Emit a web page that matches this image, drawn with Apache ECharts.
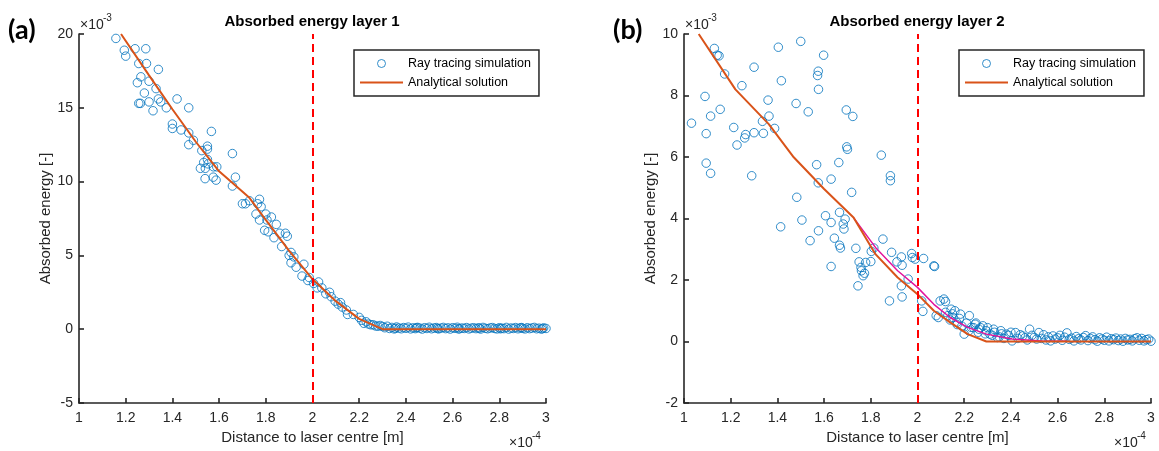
<!DOCTYPE html>
<html>
<head>
<meta charset="utf-8">
<script src="https://cdn.jsdelivr.net/npm/echarts@6/dist/echarts.min.js"></script>
<style>
  html, body { margin: 0; padding: 0; background: #fff; }
  #chart { width: 1159px; height: 451px; }
</style>
</head>
<body>
<div id="chart"></div>
<script>
// Distances in units of 1e-4 m, energies in units of 1e-3.

// ---- Layer 1: ray tracing samples ----
const layer1SimX = [
  1.158, 1.194, 1.20, 1.24, 1.286, 1.256, 1.289, 1.265, 1.25, 1.30, 1.34, 1.28, 1.33,
  1.256, 1.263, 1.30, 1.34, 1.35, 1.317, 1.374, 1.42, 1.47, 1.40, 1.40, 1.437, 1.47,
  1.49, 1.47, 1.567, 1.55, 1.55, 1.526, 1.657, 1.55, 1.534, 1.553, 1.52, 1.541, 1.576,
  1.59, 1.54, 1.575, 1.587, 1.67, 1.657, 1.70, 1.713, 1.73, 1.773, 1.765, 1.78, 1.758,
  1.773, 1.80, 1.805, 1.824, 1.845, 1.795, 1.81, 1.835, 1.86, 1.884, 1.892, 1.868,
  1.908, 1.90, 1.92, 1.908, 1.93, 1.963, 1.955, 1.98, 1.986, 2.005, 2.02, 2.026, 2.04,
  2.057, 2.073, 2.08, 2.097, 2.11, 2.12, 2.127, 2.145, 2.15, 2.175, 2.20, 2.21, 2.22,
  2.23, 2.24, 2.25, 2.26, 2.27, 2.28, 2.29,
  2.30, 2.31, 2.32, 2.33, 2.34, 2.35, 2.355, 2.36, 2.37, 2.38, 2.39, 2.40, 2.41, 2.42,
  2.43, 2.44, 2.445, 2.45, 2.46, 2.47, 2.48, 2.49, 2.50, 2.51, 2.52, 2.53, 2.535, 2.54,
  2.55, 2.56, 2.57, 2.58, 2.59, 2.60, 2.61, 2.62, 2.625, 2.63, 2.64, 2.65, 2.66, 2.67,
  2.68, 2.69, 2.70, 2.71, 2.715, 2.72, 2.73, 2.74, 2.75, 2.76, 2.77, 2.78, 2.79, 2.80,
  2.805, 2.81, 2.82, 2.83, 2.84, 2.85, 2.86, 2.87, 2.88, 2.89, 2.895, 2.90, 2.91, 2.92,
  2.93, 2.94, 2.95, 2.96, 2.97, 2.98, 2.985, 2.99, 3.00
];
const layer1SimY = [
  19.7, 18.9, 18.5, 19.0, 19.0, 18.0, 18.0, 17.1, 16.7, 16.8, 17.6, 16.0, 16.3,
  15.3, 15.3, 15.4, 15.6, 15.4, 14.8, 15.0, 15.6, 15.0, 13.9, 13.6, 13.5, 13.3,
  12.8, 12.5, 13.4, 12.4, 12.2, 12.1, 11.9, 11.5, 11.3, 11.2, 10.9, 10.9, 11.0,
  11.0, 10.2, 10.3, 10.1, 10.3, 9.7, 8.5, 8.5, 8.7, 8.8, 8.5, 8.3, 7.8,
  7.4, 7.8, 7.4, 7.6, 7.1, 6.7, 6.6, 6.2, 6.5, 6.5, 6.3, 5.6,
  5.2, 5.0, 4.9, 4.5, 4.2, 4.4, 3.6, 3.3, 3.5, 3.1, 2.8, 3.2, 2.8,
  2.4, 2.5, 2.2, 1.9, 1.7, 1.8, 1.5, 1.3, 1.0, 1.0, 0.8, 0.6, 0.4,
  0.5, 0.35, 0.3, 0.3, 0.22, 0.2, 0.25,
  0.18, 0.10, 0.20, 0.05, 0.12, 0.02, 0.06, 0.15, 0.08, 0.03, 0.11, 0.06, 0.14, 0.02,
  0.09, 0.04, 0.10, 0.12, 0.07, 0.01, 0.10, 0.05, 0.13, 0.03, 0.08, 0.11, 0.05, 0.02,
  0.07, 0.12, 0.04, 0.09, 0.01, 0.10, 0.06, 0.13, 0.02, 0.03, 0.08, 0.05, 0.11, 0.02,
  0.07, 0.10, 0.04, 0.09, 0.07, 0.01, 0.12, 0.06, 0.03, 0.08, 0.11, 0.05, 0.02, 0.10,
  0.03, 0.07, 0.04, 0.12, 0.01, 0.08, 0.05, 0.11, 0.03, 0.09, 0.11, 0.06, 0.02, 0.10,
  0.04, 0.08, 0.12, 0.03, 0.07, 0.01, 0.04, 0.09, 0.05
];

// ---- Layer 1: analytical solution ----
const layer1FitX = [1.18, 1.30, 1.40, 1.50, 1.60, 1.73, 1.80, 1.90, 2.00, 2.10, 2.20, 2.30, 3.00];
const layer1FitY = [20.0, 17.2, 14.9, 12.7, 10.7, 8.9, 7.4, 5.3, 3.4, 1.9, 0.7, 0.0, 0.0];

// ---- Layer 2: ray tracing samples ----
const layer2SimX = [
  1.032, 1.09, 1.095, 1.095, 1.114, 1.114, 1.13, 1.142, 1.15, 1.155, 1.174, 1.213,
  1.227, 1.248, 1.26, 1.264, 1.29, 1.30, 1.30, 1.336, 1.34, 1.36, 1.364, 1.388, 1.404,
  1.414, 1.417, 1.48, 1.483, 1.50, 1.505, 1.532, 1.54, 1.568, 1.572, 1.575, 1.575,
  1.576, 1.576, 1.598, 1.606, 1.63, 1.63, 1.63, 1.644, 1.663, 1.666, 1.666, 1.67,
  1.682, 1.685, 1.69, 1.695, 1.697, 1.70, 1.718, 1.723, 1.736, 1.745, 1.75, 1.758,
  1.76, 1.767, 1.773, 1.778, 1.80, 1.802, 1.813, 1.845, 1.852, 1.88, 1.884, 1.884,
  1.889, 1.912, 1.931, 1.931, 1.934, 1.934, 1.96, 1.975, 1.978, 1.99, 2.018, 2.023,
  2.026, 2.07, 2.073, 2.08, 2.089, 2.097, 2.113, 2.12, 2.13, 2.144, 2.152, 2.168,
  2.184, 2.20, 2.222, 2.23, 2.247, 2.263, 2.28, 2.294, 2.31, 2.326, 2.342, 2.357,
  2.38, 2.405, 2.42, 2.45, 2.48, 2.50, 2.52,
  2.12, 2.14, 2.15, 2.16, 2.17, 2.18, 2.19, 2.21, 2.22, 2.24, 2.25, 2.26, 2.27, 2.29,
  2.30, 2.32, 2.33, 2.35, 2.36, 2.37, 2.39, 2.40, 2.43, 2.44, 2.46, 2.47, 2.49, 2.51,
  2.53, 2.54, 2.55, 2.56, 2.57, 2.58, 2.59, 2.60, 2.61, 2.62, 2.63, 2.64, 2.65, 2.66,
  2.67, 2.68, 2.69, 2.70, 2.71, 2.72, 2.73, 2.74, 2.75, 2.76, 2.77, 2.78, 2.79, 2.80,
  2.81, 2.82, 2.83, 2.84, 2.85, 2.86, 2.87, 2.88, 2.89, 2.90, 2.91, 2.92, 2.93, 2.94,
  2.95, 2.96, 2.97, 2.98, 2.99, 3.00
];
const layer2SimY = [
  7.10, 7.97, 6.76, 5.80, 5.47, 7.33, 9.53, 9.31, 9.29, 7.55, 8.70, 6.96,
  6.39, 8.32, 6.62, 6.73, 5.39, 8.92, 6.79, 7.16, 6.77, 7.85, 7.33, 6.93, 9.57,
  3.73, 8.48, 7.74, 4.69, 9.76, 3.95, 7.47, 3.28, 5.75, 8.65, 8.79, 5.16,
  8.20, 3.60, 9.31, 4.09, 5.28, 3.87, 2.44, 3.36, 5.82, 4.20, 3.13, 3.04,
  3.82, 3.66, 3.98, 7.53, 6.33, 6.25, 4.85, 7.32, 3.03, 1.81, 2.59, 2.41,
  2.30, 2.14, 2.22, 2.57, 2.60, 2.93, 3.04, 6.06, 3.33, 1.32, 5.39, 5.23,
  2.90, 2.59, 2.75, 1.81, 1.45, 2.48, 2.03, 2.86, 2.73, 2.68, 1.32, 0.98,
  2.70, 2.46, 2.44, 0.84, 0.78, 1.32, 1.38, 1.30, 0.84, 1.05, 0.78, 0.62,
  0.89, 0.24, 0.84, 0.46, 0.56, 0.40, 0.51, 0.35, 0.24, 0.40, 0.13, 0.35,
  0.24, 0.02, 0.29, 0.18, 0.40, 0.13, 0.29,
  0.95, 0.70, 0.90, 1.00, 0.55, 0.75, 0.50, 0.60, 0.35, 0.45, 0.60, 0.30, 0.45, 0.25,
  0.45, 0.20, 0.30, 0.15, 0.25, 0.10, 0.20, 0.30, 0.10, 0.22, 0.12, 0.05, 0.20, 0.08,
  0.10, 0.22, 0.05, 0.15, 0.02, 0.18, 0.08, 0.12, 0.20, 0.04, 0.14, 0.28, 0.07, 0.11,
  0.02, 0.16, 0.09, 0.05, 0.13, 0.19, 0.03, 0.10, 0.15, 0.06, 0.01, 0.12, 0.08, 0.04,
  0.14, 0.02, 0.09, 0.06, 0.11, 0.03, 0.08, 0.01, 0.10, 0.05, 0.07, 0.02, 0.09, 0.12,
  0.04, 0.10, 0.02, 0.06, 0.08, 0.01
];

// ---- Layer 2: analytical solution and its corrected branch ----
const layer2FitX = [1.063, 1.22, 1.363, 1.47, 1.60, 1.726, 1.82, 1.915, 2.00, 2.07, 2.14, 2.215, 2.295, 3.00];
const layer2FitY = [10.0, 8.2, 7.07, 5.99, 4.96, 4.03, 2.84, 2.08, 1.54, 1.00, 0.62, 0.24, 0.0, 0.0];
const layer2AltX = [1.726, 1.82, 1.915, 2.00, 2.07, 2.14, 2.215, 2.295, 2.405, 2.53, 2.64];
const layer2AltY = [4.03, 3.06, 2.30, 1.76, 1.21, 0.78, 0.46, 0.24, 0.08, 0.02, 0.01];

// Boundary of the laser spot
const spotEdge = 2.0;

// Axis ranges and tick labels
const xTicks = [1, 1.2, 1.4, 1.6, 1.8, 2, 2.2, 2.4, 2.6, 2.8, 3];
const layer1YTicks = [-5, 0, 5, 10, 15, 20];
const layer2YTicks = [-2, 0, 2, 4, 6, 8, 10];

const titles = ['Absorbed energy layer 1', 'Absorbed energy layer 2'];
const panelTags = ['(a)', '(b)'];
const simName = 'Ray tracing simulation';
const fitName = 'Analytical solution';

const zip = (xs, ys) => xs.map((x, i) => [x, ys[i]]);

const BLUE = '#0072BD';
const ORANGE = '#D95319';
const PINK = '#E2149C';
const AXIS = '#262626';
const FONT = 'Liberation Sans, Arial, sans-serif';

const GRID_W = 467, GRID_H = 369, GRID_TOP = 34;
const gridLefts = [79, 684];

function xAxisFor(gi) {
  return {
    type: 'value', gridIndex: gi,
    min: xTicks[0], max: xTicks[xTicks.length - 1], interval: 0.2,
    name: 'Distance to laser centre [m]',
    nameLocation: 'middle', nameGap: 27,
    nameTextStyle: { color: AXIS, fontSize: 15, fontFamily: FONT },
    axisLine: { onZero: false, lineStyle: { color: AXIS, width: 1.6 } },
    axisTick: { inside: true, length: 5, lineStyle: { color: AXIS, width: 1.6 } },
    splitLine: { show: false },
    axisLabel: {
      color: AXIS, fontSize: 14, fontFamily: FONT, margin: 8,
      formatter: v => String(+v.toFixed(1))
    }
  };
}

function yAxisFor(gi, ticks) {
  return {
    type: 'value', gridIndex: gi,
    min: ticks[0], max: ticks[ticks.length - 1], interval: ticks[1] - ticks[0],
    name: 'Absorbed energy [-]',
    nameLocation: 'middle', nameGap: 26,
    nameTextStyle: { color: AXIS, fontSize: 15, fontFamily: FONT },
    axisLine: { onZero: false, lineStyle: { color: AXIS, width: 1.6 } },
    axisTick: { inside: true, length: 5, lineStyle: { color: AXIS, width: 1.6 } },
    splitLine: { show: false },
    axisLabel: { color: AXIS, fontSize: 14, fontFamily: FONT, margin: 6 }
  };
}

function simSeries(gi, xs, ys) {
  return {
    name: simName, type: 'scatter', xAxisIndex: gi, yAxisIndex: gi,
    data: zip(xs, ys),
    symbol: 'circle', symbolSize: 8.5,
    itemStyle: { color: 'rgba(0,0,0,0)', borderColor: BLUE, borderWidth: 1 },
    emphasis: { disabled: true }, z: 2
  };
}

function fitSeries(gi, xs, ys) {
  return {
    name: fitName, type: 'line', xAxisIndex: gi, yAxisIndex: gi,
    data: zip(xs, ys), symbol: 'none', showSymbol: false,
    lineStyle: { color: ORANGE, width: 2 },
    itemStyle: { color: ORANGE },
    emphasis: { disabled: true }, z: 4,
    markLine: {
      silent: true, symbol: 'none', animation: false,
      label: { show: false },
      lineStyle: { color: '#FF0000', width: 2, type: [8, 5] },
      data: [{ xAxis: spotEdge }]
    }
  };
}

function legendFor(left) {
  return {
    left: left, top: 50, orient: 'vertical',
    data: [
      { name: simName, icon: 'circle',
        itemStyle: { color: 'rgba(0,0,0,0)', borderColor: BLUE, borderWidth: 1 } },
      { name: fitName, icon: 'path://M0,0H43V2H0Z',
        itemStyle: { color: ORANGE, borderWidth: 0 } }
    ],
    itemWidth: 43, itemHeight: 8, itemGap: 6, itemTextGap: 2,
    padding: [7, 8, 7, 6],
    borderColor: AXIS, borderWidth: 1.5, backgroundColor: '#fff',
    selectedMode: false,
    textStyle: { color: '#000', fontSize: 12.5, fontFamily: FONT }
  };
}

function panelText(i, dx) {
  return [
    { type: 'text', left: 8 + dx, top: 17,
      style: { text: panelTags[i], font: 'bold 27px Lato, "Open Sans", sans-serif', fill: '#000' } },
    { type: 'text', x: 312 + dx, y: 22,
      style: { text: titles[i], font: 'bold 15px ' + FONT, fill: '#000', align: 'center', verticalAlign: 'middle' } },
    { type: 'text', x: 80 + dx, y: 25,
      style: { text: '×10', font: '14px ' + FONT, fill: AXIS, verticalAlign: 'middle' } },
    { type: 'text', x: 103 + dx, y: 18,
      style: { text: '-3', font: '10px ' + FONT, fill: AXIS, verticalAlign: 'middle' } },
    { type: 'text', x: 509 + dx, y: 443,
      style: { text: '×10', font: '14px ' + FONT, fill: AXIS, verticalAlign: 'middle' } },
    { type: 'text', x: 532 + dx, y: 436,
      style: { text: '-4', font: '10px ' + FONT, fill: AXIS, verticalAlign: 'middle' } }
  ];
}

const chart = echarts.init(document.getElementById('chart'), null, { renderer: 'canvas' });

chart.setOption({
  animation: false,
  backgroundColor: '#fff',
  grid: gridLefts.map(l => ({ left: l, top: GRID_TOP, width: GRID_W, height: GRID_H, containLabel: false })),
  xAxis: [xAxisFor(0), xAxisFor(1)],
  yAxis: [yAxisFor(0, layer1YTicks), yAxisFor(1, layer2YTicks)],
  legend: [legendFor(354), legendFor(959)],
  series: [
    simSeries(0, layer1SimX, layer1SimY),
    fitSeries(0, layer1FitX, layer1FitY),
    simSeries(1, layer2SimX, layer2SimY),
    fitSeries(1, layer2FitX, layer2FitY),
    {
      name: 'Corrected solution', type: 'line', xAxisIndex: 1, yAxisIndex: 1,
      data: zip(layer2AltX, layer2AltY), symbol: 'none', showSymbol: false,
      lineStyle: { color: PINK, width: 1.5 }, emphasis: { disabled: true }, z: 3
    }
  ],
  graphic: [...panelText(0, 0), ...panelText(1, 605)]
});
</script>
</body>
</html>
